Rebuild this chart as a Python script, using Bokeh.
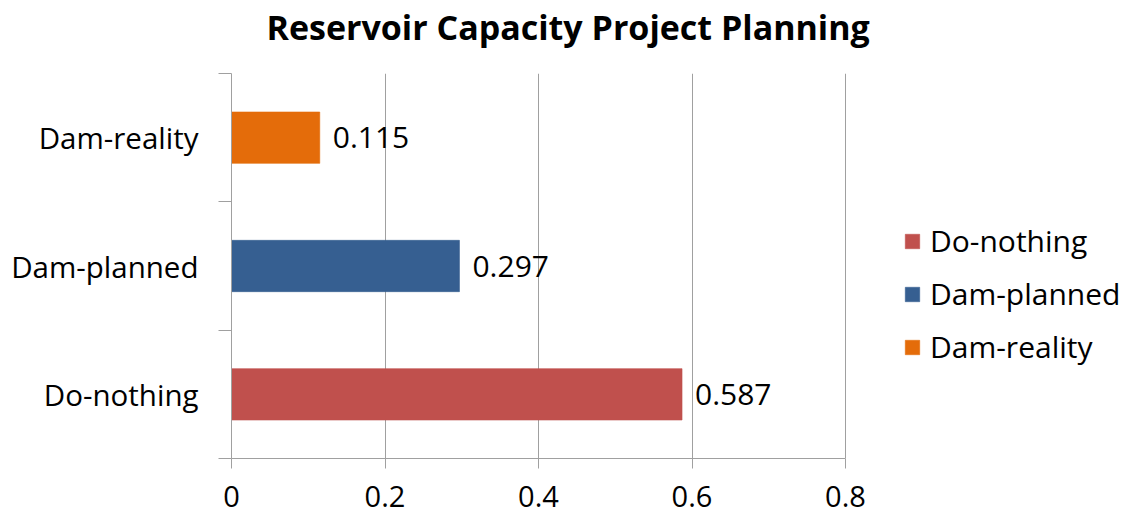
from bokeh.plotting import figure
from bokeh.models import (ColumnDataSource, Range1d, LinearAxis,
                          FixedTicker, LabelSet, Legend, LegendItem, Title)
from bokeh.core.properties import value
from bokeh.embed import file_html
from bokeh.resources import INLINE

# ---- data ----
categories = ["Do-nothing", "Dam-planned", "Dam-reality"]
values = [0.587, 0.297, 0.115]
value_labels = ["0.587", "0.297", "0.115"]
colors = ["#C0504D", "#365F91", "#E46C0A"]
x_ticks = [0, 0.2, 0.4, 0.6, 0.8]
x_tick_labels = ["0", "0.2", "0.4", "0.6", "0.8"]

FONT = "Open Sans"
FS = "30px"
GRID = "#a0a0a0"

n = len(categories)
centers = [i + 0.5 for i in range(n)]  # band centres of each category (bottom to top)
src = ColumnDataSource(dict(cat=categories, pos=centers, val=values, lab=value_labels, color=colors))

# axis spans 0..0.8 over 614 px; frame extends further right to hold the legend
X_MAX_VIEW = 0.8 * 891 / 614

p = figure(width=1122, height=517, output_backend="svg", toolbar_location=None,
           y_range=Range1d(0, n), x_range=Range1d(0, X_MAX_VIEW),
           x_axis_location=None, y_axis_location=None,
           min_border_left=231, min_border_right=0, min_border_top=73, min_border_bottom=59)
p.outline_line_color = None
p.background_fill_color = "white"
p.border_fill_color = "white"

# spacer between frame and title, then title
p.add_layout(Title(text=" ", text_font_size="20px", standoff=0), "above")
t = Title(text="Reservoir Capacity Project Planning", align="left", offset=35,
          text_font=FONT, text_font_size="34px", text_font_style="bold",
          text_color="#000000", standoff=0)
p.add_layout(t, "above")

# bars
r = p.hbar(y="pos", right="val", left=0, height=0.4, source=src,
           fill_color="color", line_color="color", line_alpha=0.6)

# value labels
p.add_layout(LabelSet(x="val", y="pos", text="lab", source=src, x_offset=13,
                      text_baseline="middle", text_font=value(FONT), text_font_size=value(FS),
                      text_color="#000000"))

# grid
p.ygrid.visible = False
p.xgrid.ticker = FixedTicker(ticks=x_ticks)
p.xgrid.grid_line_color = GRID
p.xgrid.grid_line_width = 1

# bottom axis
xa = LinearAxis(ticker=FixedTicker(ticks=x_ticks), bounds=(x_ticks[0], x_ticks[-1]),
                major_label_overrides={k: v for k, v in zip(x_ticks, x_tick_labels)})
xa.axis_line_color = GRID
xa.major_tick_line_color = GRID
xa.major_tick_in = 0
xa.major_tick_out = 10
xa.minor_tick_line_color = None
xa.major_label_standoff = 17
xa.major_label_text_font = FONT
xa.major_label_text_font_size = "29px"
xa.major_label_text_color = "#000000"
p.add_layout(xa, "below")

# left axis: boundary ticks
bounds = list(range(n + 1))
ya_ticks = LinearAxis(ticker=FixedTicker(ticks=bounds),
                      major_label_overrides={i: "" for i in bounds})
ya_ticks.axis_line_color = GRID
ya_ticks.major_tick_line_color = GRID
ya_ticks.major_tick_in = 0
ya_ticks.major_tick_out = 13
ya_ticks.minor_tick_line_color = None
ya_ticks.major_label_standoff = 0
ya_ticks.major_label_text_font_size = "1px"
p.add_layout(ya_ticks, "left")

# left axis: category labels
ya = LinearAxis(ticker=FixedTicker(ticks=centers),
                major_label_overrides={c: name for c, name in zip(centers, categories)})
ya.axis_line_color = None
ya.major_tick_line_color = None
ya.minor_tick_line_color = None
ya.major_tick_in = 0
ya.major_tick_out = 0
ya.major_label_standoff = 20
ya.major_label_text_font = FONT
ya.major_label_text_font_size = "29.5px"
ya.major_label_text_color = "#000000"
p.add_layout(ya, "left")

# legend
items = [LegendItem(label=c, renderers=[r], index=i) for i, c in enumerate(categories)]
leg = Legend(items=items, location=(672, 91), orientation="vertical",
             glyph_width=18, glyph_height=18, label_standoff=9, spacing=12,
             padding=0, margin=0, border_line_color=None, background_fill_alpha=0,
             label_text_font=FONT, label_text_font_size=FS, label_text_color="#000000")
p.add_layout(leg, "center")

open("out.html", "w").write(file_html(p, INLINE))
